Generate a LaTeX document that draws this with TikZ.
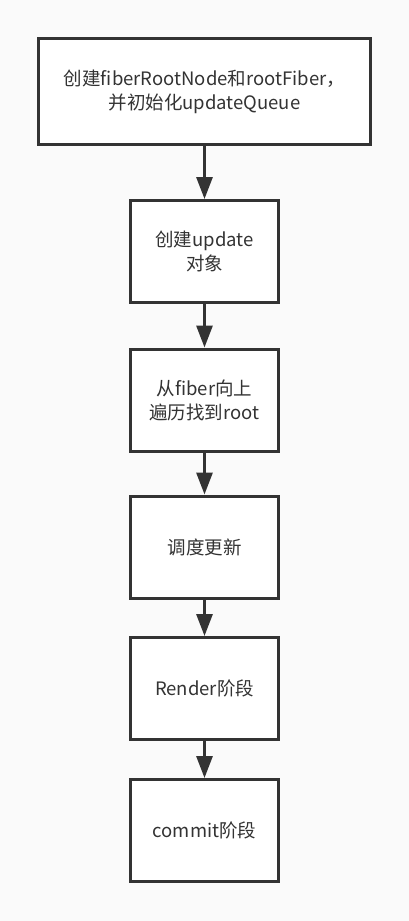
\documentclass[tikz,border=0pt]{standalone}
\usepackage{fontspec}
\newfontfamily\cjk{Noto Sans CJK SC}
\definecolor{bgwhite}{RGB}{250, 250, 250}
\definecolor{edgegray}{RGB}{51, 51, 51}
\definecolor{textgray}{RGB}{51, 51, 51}
\usetikzlibrary{arrows.meta, positioning}

\tikzset{
  stepbox/.style={draw=edgegray, line width=3pt, fill=white, align=center,
    font=\cjk\fontsize{18.5}{24}\selectfont, text=textgray,
    minimum width=148pt, minimum height=102pt, inner sep=0pt},
  flow/.style={draw=edgegray, line width=3pt,
    -{Triangle[length=22pt, width=16pt, fill=edgegray]}}
}

\begin{document}
\begin{tikzpicture}[x=1pt, y=1pt]
  % Page background
  \fill[bgwhite] (0, 0) rectangle (409, -921);
  \useasboundingbox (0, 0) rectangle (409, -921);

  % Steps, top to bottom
  \node[stepbox, minimum width=332pt, minimum height=106pt] (init) at (204.5, -91.5)
    {创建fiberRootNode和rootFiber，\\并初始化updateQueue};
  \node[stepbox] (upd)    at (204.5, -251.5) {创建update\\对象};
  \node[stepbox] (walk)   at (204.5, -400)   {从fiber向上\\遍历找到root};
  \node[stepbox] (sched)  at (204.5, -547)   {调度更新};
  \node[stepbox] (render) at (204.5, -688.5) {Render阶段};
  \node[stepbox] (commit) at (204.5, -830.5) {commit阶段};

  % Arrows
  \draw[flow] (init) -- (upd);
  \draw[flow] (upd) -- (walk);
  \draw[flow] (walk) -- (sched);
  \draw[flow] (sched) -- (render);
  \draw[flow] (render) -- (commit);
\end{tikzpicture}
\end{document}
